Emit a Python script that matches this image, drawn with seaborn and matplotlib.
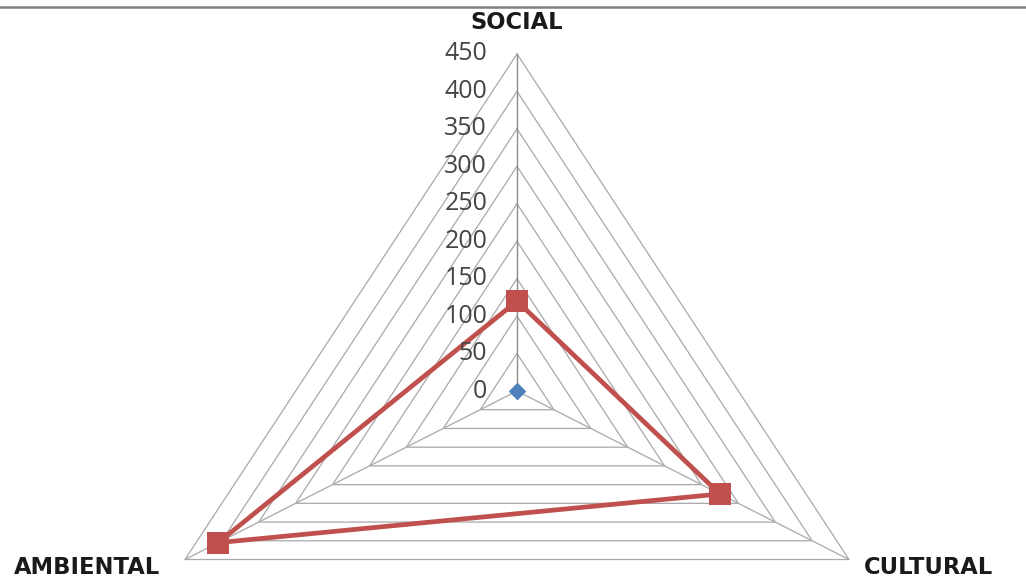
import numpy as np
import pandas as pd
import seaborn as sns
import matplotlib.pyplot as plt
from matplotlib.lines import Line2D

# ---- data ----
categories = ["SOCIAL", "CULTURAL", "AMBIENTAL"]
series_red = [120, 275, 405]
series_blue = [0, 0, 0]
tick_values = [0, 50, 100, 150, 200, 250, 300, 350, 400, 450]
tick_labels = ["0", "50", "100", "150", "200", "250", "300", "350", "400", "450"]

sns.set_theme(style="white")
plt.rcParams['font.family'] = ['DejaVu Sans']

W, H = 1026, 578
fig = plt.figure(figsize=(W / 100, H / 100), dpi=100)
ax = fig.add_axes([0, 0, 1, 1])

angles = np.deg2rad([0, 120, 240])


def to_xy(values):
    v = np.asarray(values, dtype=float)
    return v * np.sin(angles), v * np.cos(angles)


# pixel mapping (center at px 517, 391)
sx, sy = 0.852, 0.749
cx_px, cy_px = 517, 391
ax.set_xlim(-cx_px / sx, (W - cx_px) / sx)
ax.set_ylim(-(H - cy_px) / sy, cy_px / sy)
ax.axis("off")

vmax = tick_values[-1]
# grid triangles
for v in tick_values[1:]:
    gx, gy = to_xy([v] * 3)
    ax.plot(np.append(gx, gx[0]), np.append(gy, gy[0]), color="#a8a8a8", lw=0.9, zorder=1)
# spokes
ox, oy = to_xy([vmax] * 3)
for i in range(3):
    ax.plot([0, ox[i]], [0, oy[i]], color="#8c8c8c" if i == 0 else "#b0b0b0",
            lw=1.0, zorder=1)

# series
rx, ry = to_xy(series_red)
df_red = pd.DataFrame({"x": np.append(rx, rx[0]), "y": np.append(ry, ry[0])})
sns.lineplot(data=df_red, x="x", y="y", sort=False, estimator=None,
             color="#c0504d", linewidth=3.4, ax=ax, zorder=3)
sns.scatterplot(x=rx, y=ry, marker="s", s=240, color="#c0504d",
                edgecolor="#c0504d", linewidth=0, ax=ax, zorder=4)

bx, by = to_xy(series_blue)
sns.scatterplot(x=bx, y=by, marker="D", s=75, color="#4f81bd",
                edgecolor="#4f81bd", linewidth=0, ax=ax, zorder=4)

# tick labels on value axis
for v, lab in zip(tick_values, tick_labels):
    ax.text(-35, v, lab, ha="right", va="center", fontsize=18,
            color="#454545", family="Open Sans", zorder=5)

# category labels
lab_kw = dict(ha="center", va="center", fontsize=16.3, fontweight="bold", color="#1a1a1a")
ax.text(0, 492, categories[0], **lab_kw)
ax.text(483, -235, categories[1], **lab_kw)
ax.text(-505, -235, categories[2], **lab_kw)

if ax.get_legend() is not None:
    ax.get_legend().remove()

# top border
fig.add_artist(Line2D([0, 1], [1 - 7 / H, 1 - 7 / H], transform=fig.transFigure,
                      color="#7f7f7f", lw=1.8))

fig.savefig("out.png", dpi=100, facecolor="white")
